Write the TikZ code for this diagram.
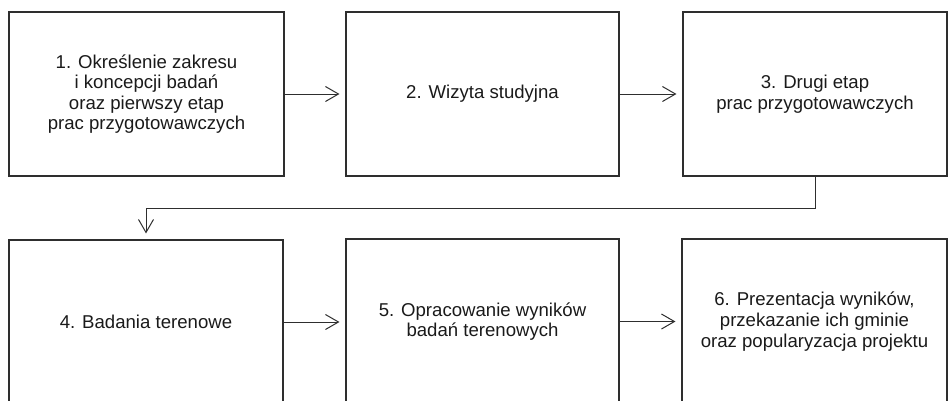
\documentclass[tikz,border=0pt]{standalone}
\usepackage{fontspec}
\setmainfont{Liberation Sans}
\usetikzlibrary{arrows.meta}
\definecolor{linec}{HTML}{2E2E2E}
\definecolor{textc}{HTML}{1A1A1A}
\begin{document}
\begin{tikzpicture}[x=1pt,y=-1pt,
  box/.style={draw=linec, line width=1.1pt, inner sep=0pt, align=center,
    text=textc, font=\fontsize{18.6}{20.6}\selectfont},
  arr/.style={draw=linec, line width=1pt, shorten >=6pt,
    -{Straight Barb[length=13pt,width=15pt,line width=1pt]}}]
\useasboundingbox (0,0) rectangle (948,400);
\clip (0,0) rectangle (948,400);
\node[box, minimum width=275pt, minimum height=164pt] (b1) at (146.5,94)
  {1. Określenie zakresu\\i koncepcji badań\\oraz pierwszy etap\\prac przygotowawczych};
\node[box, minimum width=273pt, minimum height=164pt] (b2) at (482.5,94)
  {2. Wizyta studyjna};
\node[box, minimum width=264pt, minimum height=164pt] (b3) at (815,94)
  {3. Drugi etap\\prac przygotowawczych};
\node[box, minimum width=274pt, minimum height=164pt] (b4) at (146,322)
  {4. Badania terenowe};
\node[box, minimum width=273pt, minimum height=165pt] (b5) at (482.5,321.5)
  {5. Opracowanie wyników\\badań terenowych};
\node[box, minimum width=265pt, minimum height=165pt] (b6) at (814.5,321.5)
  {6. Prezentacja wyników,\\przekazanie ich gminie\\oraz popularyzacja projektu};
\draw[arr] (b1.east) -- (b2.west);
\draw[arr] (b2.east) -- (b3.west);
\draw[arr] (b3.south) -- ++(0,32) -| (b4.north);
\draw[arr] (b4.east) -- (b4.east -| b5.west);
\draw[arr] (b5.east) -- (b6.west);
\end{tikzpicture}
\end{document}
